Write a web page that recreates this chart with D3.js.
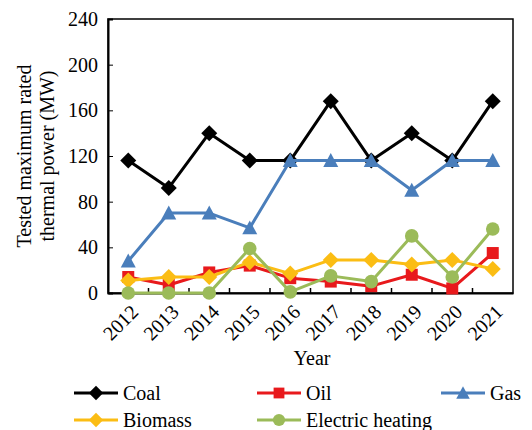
<!DOCTYPE html>
<html><head><meta charset="utf-8">
<script src="https://cdn.jsdelivr.net/npm/d3@7/dist/d3.min.js"></script>
<style>body{margin:0;background:#fff}svg text{font-family:"Liberation Serif","Times New Roman",serif;fill:#000}</style>
</head><body><svg id="c" width="532" height="430"></svg>
<script>
const years = ["2012","2013","2014","2015","2016","2017","2018","2019","2020","2021"];
const coal = [116, 92, 140, 116, 116, 168, 116, 140, 116, 168];
const oil = [14, 7, 18, 24, 13, 10, 6, 16, 4, 35];
const gas = [28, 70, 70, 57, 116, 116, 116, 90, 116, 116];
const biomass = [11, 14, 14, 27, 17, 29, 29, 25, 29, 21];
const electric = [0, 0, 0, 39, 1, 15, 10, 50, 14, 56];
const yTicks = [0, 40, 80, 120, 160, 200, 240];

const series = [
  {name:"Coal", values:coal, color:"#000000", shape:"diamond"},
  {name:"Oil", values:oil, color:"#e8191c", shape:"square"},
  {name:"Gas", values:gas, color:"#4a7ebb", shape:"triangle"},
  {name:"Biomass", values:biomass, color:"#fbbd14", shape:"diamond"},
  {name:"Electric heating", values:electric, color:"#9bbb59", shape:"circle"}
];

const svg = d3.select("#c");
const L = 108, R = 513, T = 19, B = 293;
const x = d3.scaleBand().domain(years).range([L, R]);
const y = d3.scaleLinear().domain([0, 240]).range([B, T]);

// frame
svg.append("rect").attr("x", L).attr("y", T).attr("width", R-L).attr("height", B-T)
  .attr("fill","none").attr("stroke","#000").attr("stroke-width",1.5);

// y axis
const ya = svg.append("g").attr("transform",`translate(${L},0)`)
  .call(d3.axisLeft(y).tickValues(yTicks).tickSize(-5).tickPadding(10));
ya.select(".domain").attr("stroke-width",2);
ya.selectAll("text").attr("font-size",20);

// x axis with ticks at category boundaries
const xa = svg.append("g").attr("transform",`translate(0,${B})`)
  .call(d3.axisBottom(x).tickSize(0).tickPadding(0));
xa.select(".domain").attr("stroke-width",2);
xa.selectAll(".tick line").remove();
xa.selectAll(".tick text").attr("font-size",20)
  .attr("text-anchor","end").attr("dy",null).attr("y",0)
  .attr("transform","translate(8,17) rotate(-45)")
  .attr("dominant-baseline","middle");
years.forEach((yr,i)=>{
  if(i===0) return;
  const bx = x(yr);
  svg.append("line").attr("x1",bx).attr("x2",bx).attr("y1",B).attr("y2",B-5).attr("stroke","#000").attr("stroke-width",1.5);
});

// axis titles
svg.append("text").attr("transform",`translate(31,${(T+B)/2}) rotate(-90)`)
  .attr("text-anchor","middle").attr("font-size",20).text("Tested maximum rated");
svg.append("text").attr("transform",`translate(54,${(T+B)/2}) rotate(-90)`)
  .attr("text-anchor","middle").attr("font-size",20).text("thermal power (MW)");
svg.append("text").attr("x",312).attr("y",365).attr("text-anchor","middle").attr("font-size",20).text("Year");

function marker(g, shape, cx, cy, color, scale){
  const s = scale||1;
  if(shape==="diamond"){
    const h=8*s;
    g.append("path").attr("d",`M${cx},${cy-h}L${cx+h},${cy}L${cx},${cy+h}L${cx-h},${cy}Z`).attr("fill",color);
  } else if(shape==="square"){
    const h=6*s;
    g.append("rect").attr("x",cx-h).attr("y",cy-h).attr("width",2*h).attr("height",2*h).attr("fill",color);
  } else if(shape==="triangle"){
    const h=7.5*s;
    g.append("path").attr("d",`M${cx},${cy-h}L${cx+h},${cy+h*0.85}L${cx-h},${cy+h*0.85}Z`).attr("fill",color);
  } else {
    g.append("circle").attr("cx",cx).attr("cy",cy).attr("r",6.8*s).attr("fill",color);
  }
}

const line = d3.line().x((d,i)=>x(years[i])+x.bandwidth()/2).y(d=>y(d));
series.forEach(s=>{
  const g = svg.append("g");
  g.append("path").datum(s.values).attr("d",line).attr("fill","none").attr("stroke",s.color).attr("stroke-width",3).attr("stroke-linejoin","round");
  s.values.forEach((v,i)=>marker(g,s.shape,x(years[i])+x.bandwidth()/2,y(v),s.color));
});

// legend
const legPos = [[74,393],[257,393],[441,393],[74,420],[257,420]];
series.forEach((s,i)=>{
  const [lx,ly] = legPos[i];
  const g = svg.append("g");
  g.append("line").attr("x1",lx).attr("x2",lx+44).attr("y1",ly).attr("y2",ly).attr("stroke",s.color).attr("stroke-width",3);
  marker(g,s.shape,lx+22,ly,s.color,0.9);
  g.append("text").attr("x",lx+49).attr("y",ly).attr("dy","0.35em").attr("font-size",20).text(s.name);
});
</script></body></html>
